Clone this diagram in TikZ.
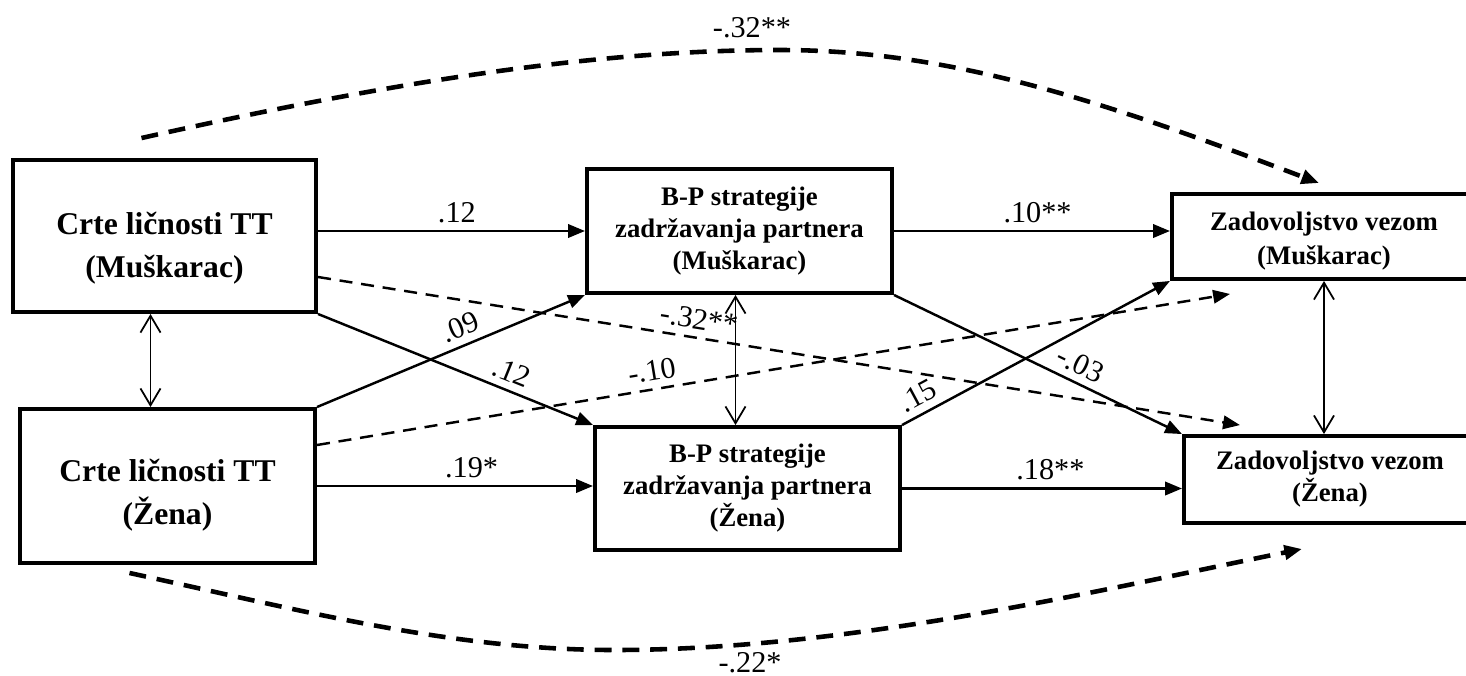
\documentclass[tikz,border=0pt]{standalone}
\usepackage{fontspec}
\setmainfont{Liberation Serif}
\usetikzlibrary{arrows.meta,calc}

\begin{document}
\begin{tikzpicture}[x=0.01cm,y=-0.01cm]
\tikzstyle{box}=[draw,line width=1.1pt,inner sep=0pt,align=center]
\tikzstyle{bigtxt}=[font=\fontsize{9}{12.2}\selectfont\bfseries]
\tikzstyle{smalltxt}=[font=\fontsize{7.6}{9.1}\selectfont\bfseries]
\tikzstyle{righttxt}=[font=\fontsize{7.6}{9.8}\selectfont\bfseries]
\tikzstyle{lbl}=[inner sep=2pt,font=\fontsize{8.6}{10}\selectfont]
\tikzstyle{arr}=[line width=0.7pt,-{Triangle[length=4.8pt,width=3.8pt]}]
\tikzstyle{darr}=[arr,dash pattern=on 3.7pt off 2.5pt]
\tikzstyle{both}=[line width=0.5pt,{Straight Barb[length=4.8pt,width=5.7pt]}-{Straight Barb[length=4.8pt,width=5.7pt]}]
\tikzstyle{bigarr}=[line width=1.3pt,dash pattern=on 4.8pt off 3.1pt,-{Triangle[length=5pt,width=4pt]}]
\useasboundingbox (0,0) rectangle (1466,675);
\draw (164.5,236) node (lt) [box,bigtxt,minimum width=3.03cm,minimum height=1.52cm] {\rule{0pt}{13.4pt}Crte ličnosti TT\\(Muškarac)};
\draw (167.5,486) node (lb) [box,bigtxt,minimum width=2.95cm,minimum height=1.54cm] {\rule{0pt}{11.8pt}Crte ličnosti TT\\(Žena)};
\draw (739.5,231) node (mt) [box,smalltxt,minimum width=3.05cm,minimum height=1.24cm] {B-P strategije\\zadržavanja partnera\\(Muškarac)};
\draw (747.5,488.5) node (mb) [box,smalltxt,minimum width=3.05cm,minimum height=1.23cm] {B-P strategije\\zadržavanja partnera\\(Žena)};
\draw (1324,236.5) node (rt) [box,righttxt,minimum width=3.04cm,minimum height=0.85cm] {\rule{0pt}{7.8pt}Zadovoljstvo vezom\\(Muškarac)};
\draw (1330,479.5) node (rb) [box,smalltxt,minimum width=2.92cm,minimum height=0.87cm] {Zadovoljstvo vezom\\(Žena)};
\draw[arr] (lt.east |- mt.west) -- node[lbl,pos=0.52,above] {.12} (mt.west);
\draw[arr] (lt.south east) -- node[lbl,pos=0.68,sloped,above] {.12} (mb.north west);
\draw[arr] (lb.north east) -- node[lbl,pos=0.56,sloped,above] {.09} (mt.south west);
\draw[arr] (lb.east) -- node[lbl,pos=0.56,above] {.19*} (lb.east -| mb.west);
\draw[arr] (mt.east) -- node[lbl,pos=0.52,above] {.10**} (mt.east -| rt.west);
\draw[arr] (mt.south east) -- node[lbl,pos=0.62,sloped,above] {-.03} (rb.north west);
\draw[arr] (mb.north east) -- node[lbl,pos=0.09,sloped,above] {.15} (rt.south west);
\draw[arr] (mb.east) -- node[lbl,pos=0.53,above] {.18**} (mb.east -| rb.west);
\draw[darr] ($(lt.east)+(0,41)$) -- node[lbl,pos=0.41,sloped,above] {-.32**} ($(rb.north west)+(58,-9)$);
\draw[darr] ($(lb.east)+(0,-41)$) -- node[lbl,pos=0.37,sloped,above] {-.10} ($(rt.south west)+(60,13)$);
\draw[both] ($(lt.south)+(-14,0)$) -- ($(lb.north)+(-17,0)$);
\draw[both] ($(mt.south)+(-4,0)$) -- ($(mb.north)+(-12,0)$);
\draw[both] (rt.south) -- ($(rb.north)+(-6,0)$);
\draw[bigarr] ($(lt.north)+(-23,-20)$) .. controls (400,80) and (600,50) .. (780,50) .. controls (950,50) and (1100,100) .. ($(rt.north)+(-5,-9)$);
\node[lbl] (t1) at (752,28) {-.32**};
\draw[bigarr] ($(lb.south)+(-38,8)$) .. controls (300,610) and (450,650) .. (614,650) .. controls (850,650) and (1100,590) .. ($(rb.south)+(-28,24)$);
\node[lbl] (t2) at (750,663) {-.22*};
\end{tikzpicture}
\end{document}
